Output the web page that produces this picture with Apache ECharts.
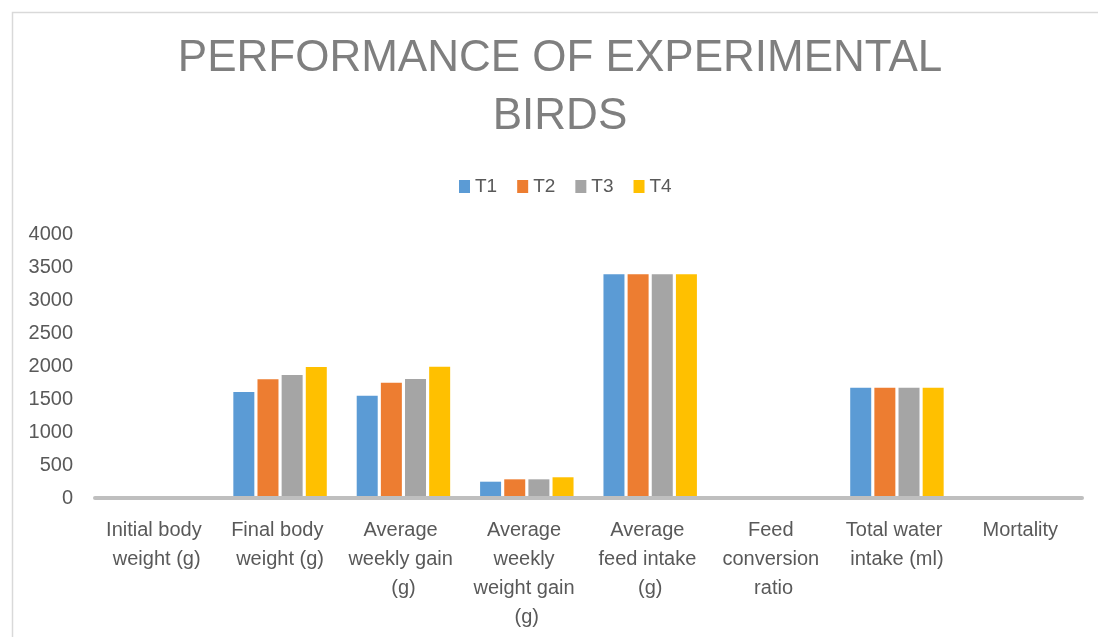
<!DOCTYPE html>
<html>
<head>
<meta charset="utf-8">
<script src="https://cdn.jsdelivr.net/npm/echarts@6/dist/echarts.min.js"></script>
<style>html,body{margin:0;padding:0;background:#fff}#c{width:1098px;height:637px}</style>
</head>
<body>
<div id="c"></div>
<script>
var categories = ['Initial body weight (g)', 'Final body weight (g)', 'Average weekly gain (g)', 'Average weekly weight gain (g)', 'Average feed intake (g)', 'Feed conversion ratio', 'Total water intake (ml)', 'Mortality'];
var seriesNames = ['T1', 'T2', 'T3', 'T4'];
var T1 = [30, 1605, 1550, 247, 3390, 1.9, 1672, 0];
var T2 = [30, 1800, 1748, 283, 3390, 1.9, 1672, 0];
var T3 = [30, 1865, 1803, 283, 3390, 1.9, 1672, 0];
var T4 = [30, 1985, 1990, 314, 3390, 1.9, 1672, 0];
var yTicks = [0, 500, 1000, 1500, 2000, 2500, 3000, 3500, 4000];
var colors = ['#5b9bd5', '#ed7d31', '#a5a5a5', '#ffc000'];

var chart = echarts.init(document.getElementById('c'));
var values = [T1, T2, T3, T4];
chart.setOption({
  animation: false,
  color: colors,
  graphic: [{
    type: 'rect', left: 10, top: 10, silent: true, z: -10,
    shape: {width: 1200, height: 1000},
    style: {fill: 'none', stroke: '#d9d9d9', lineWidth: 1.5}
  }],
  title: {
    text: 'PERFORMANCE OF EXPERIMENTAL\nBIRDS',
    left: 560, top: 30, textAlign: 'center', padding: 0,
    textStyle: {fontFamily: 'Liberation Sans', fontWeight: 'normal', fontSize: 44, lineHeight: 58, color: '#7f7f7f'}
  },
  legend: {
    data: seriesNames, left: 459, top: 177, padding: 0,
    itemWidth: 11, itemHeight: 13, itemGap: 20,
    icon: 'rect',
    textStyle: {fontFamily: 'Liberation Sans', fontSize: 19, color: '#595959', padding: [0, 0, 0, 0]}
  },
  grid: {left: 95, right: 16, top: 234, bottom: 139, containLabel: false},
  xAxis: {
    type: 'category', data: categories, z: 5,
    axisLine: {lineStyle: {color: '#bfbfbf', width: 4}},
    axisTick: {show: false},
    axisLabel: {interval: 0, margin: 18, width: 112, overflow: 'break', fontFamily: 'Liberation Sans', fontSize: 20, lineHeight: 29, color: '#595959', align: 'center'}
  },
  yAxis: {
    type: 'value', min: 0, max: 4000, interval: 500,
    axisLine: {show: false}, axisTick: {show: false}, splitLine: {show: false},
    axisLabel: {margin: 22, fontFamily: 'Liberation Sans', fontSize: 20, color: '#595959',
      formatter: function (v) { return yTicks.indexOf(v) >= 0 ? String(v) : ''; }}
  },
  series: seriesNames.map(function (n, i) {
    return {name: n, type: 'bar', data: values[i], barWidth: 21, barGap: '15%', itemStyle: {color: colors[i]}};
  })
});
</script>
</body>
</html>
